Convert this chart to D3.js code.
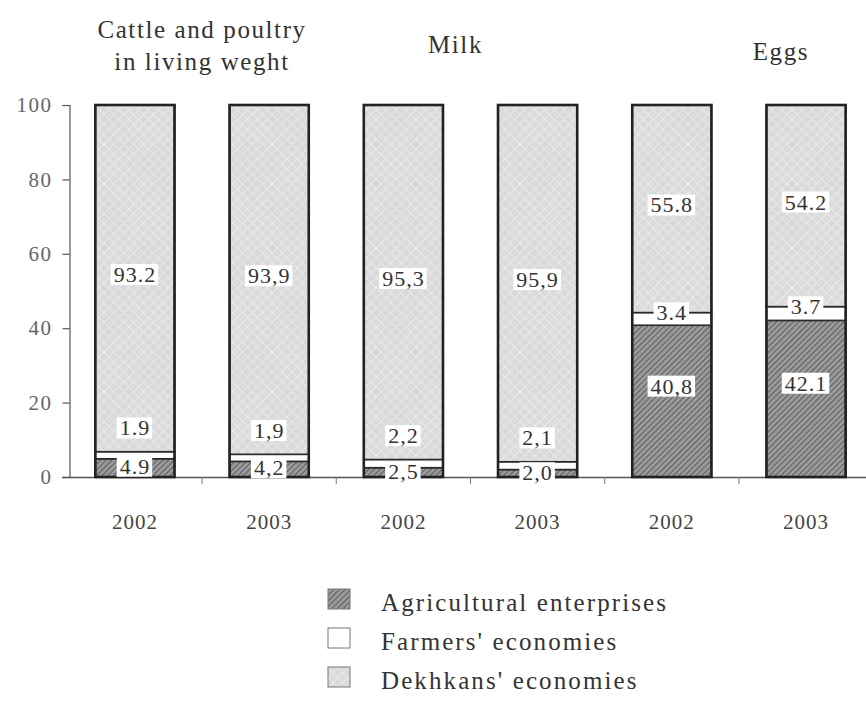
<!DOCTYPE html>
<html>
<head>
<meta charset="utf-8">
<script src="https://cdn.jsdelivr.net/npm/d3@7"></script>
<style>
  html, body { margin: 0; padding: 0; background: #fff; }
  svg { display: block; font-family: "Liberation Serif", "Times New Roman", serif; }
</style>
</head>
<body>
<svg id="chart" width="866" height="703"></svg>
<script>
// Structure of production by type of economy, %
const bars = ["c2002", "c2003", "m2002", "m2003", "e2002", "e2003"];
const years = ["2002", "2003", "2002", "2003", "2002", "2003"];
const groups = [
  { lines: ["Cattle and poultry", "in living weght"], from: 0, to: 1 },
  { lines: ["Milk"], from: 2, to: 3 },
  { lines: ["Eggs"], from: 4, to: 5 }
];
const seriesNames = ["Agricultural enterprises", "Farmers' economies", "Dekhkans' economies"];
const agricultural = [4.9, 4.2, 2.5, 2.0, 40.8, 42.1];
const farmers = [1.9, 1.9, 2.2, 2.1, 3.4, 3.7];
const dekhkans = [93.2, 93.9, 95.3, 95.9, 55.8, 54.2];
// printed labels keep the mixed decimal separators of the source
const agriculturalLabels = ["4.9", "4,2", "2,5", "2,0", "40,8", "42.1"];
const farmersLabels = ["1.9", "1,9", "2,2", "2,1", "3.4", "3.7"];
const dekhkansLabels = ["93.2", "93,9", "95,3", "95,9", "55.8", "54.2"];
const yTicks = [0, 20, 40, 60, 80, 100];

const svg = d3.select("#chart");
const defs = svg.append("defs");

// diagonal hatch for agricultural enterprises
const hatch = defs.append("pattern").attr("id", "hatch")
  .attr("patternUnits", "userSpaceOnUse").attr("width", 4).attr("height", 4)
  .attr("patternTransform", "rotate(45)");
hatch.append("rect").attr("width", 4).attr("height", 4).attr("fill", "#9a9a9a");
hatch.append("line").attr("x1", 0).attr("y1", 0).attr("x2", 0).attr("y2", 4)
  .attr("stroke", "#4a4a4a").attr("stroke-width", 1.5);

// light cross texture for dekhkans' economies
const cross = defs.append("pattern").attr("id", "cross")
  .attr("patternUnits", "userSpaceOnUse").attr("width", 7).attr("height", 7)
  .attr("patternTransform", "rotate(45)");
cross.append("rect").attr("width", 7).attr("height", 7).attr("fill", "#dadada");
cross.append("line").attr("x1", 0).attr("y1", 0).attr("x2", 7).attr("y2", 0)
  .attr("stroke", "#efefef").attr("stroke-width", 1.4);
cross.append("line").attr("x1", 0).attr("y1", 0).attr("x2", 0).attr("y2", 7)
  .attr("stroke", "#efefef").attr("stroke-width", 1.4);

const fills = ["url(#hatch)", "#ffffff", "url(#cross)"];

const x = d3.scaleBand().domain(bars).range([68.5, 872.5])
  .paddingInner(0.41).paddingOuter(0.2);
const y = d3.scaleLinear().domain([0, 100]).range([477, 105]);

// stacked data
const table = bars.map((k, i) => ({
  key: k, agricultural: agricultural[i], farmers: farmers[i], dekhkans: dekhkans[i]
}));
const stack = d3.stack().keys(["agricultural", "farmers", "dekhkans"])(table);

// x baseline with small ticks between bars
const xAxis = svg.append("g").attr("transform", `translate(0,${y(0)})`);
xAxis.append("line").attr("x1", 62).attr("x2", 866).attr("y1", 0.5).attr("y2", 0.5)
  .attr("stroke", "#555").attr("stroke-width", 1.3);
xAxis.selectAll("line.tk").data(bars.slice(1)).join("line").attr("class", "tk")
  .attr("x1", d => x(d) - x.step() * x.paddingInner() / 2)
  .attr("x2", d => x(d) - x.step() * x.paddingInner() / 2)
  .attr("y1", 0).attr("y2", 7).attr("stroke", "#777").attr("stroke-width", 1);

// y axis
const yAxis = svg.append("g").attr("transform", "translate(69.5,0)")
  .call(d3.axisLeft(y).tickValues(yTicks).tickSize(7).tickPadding(10));
yAxis.select(".domain").attr("stroke", "#555").attr("stroke-width", 1.2);
yAxis.selectAll(".tick line").attr("stroke", "#555").attr("stroke-width", 1.2);
yAxis.selectAll(".tick text").attr("fill", "#666").attr("font-size", 21)
  .attr("letter-spacing", 1.5)
  .attr("font-family", "Liberation Serif, serif");

// stacked segments
const layers = svg.append("g").selectAll("g").data(stack).join("g")
  .attr("fill", (d, i) => fills[i]);
layers.selectAll("rect").data(d => d).join("rect")
  .attr("x", d => x(d.data.key))
  .attr("width", x.bandwidth())
  .attr("y", d => y(d[1]))
  .attr("height", d => y(d[0]) - y(d[1]))
  .attr("stroke", "#2a2a2a").attr("stroke-width", 1.6);

// bar outlines
svg.append("g").selectAll("rect").data(bars).join("rect")
  .attr("x", d => x(d)).attr("width", x.bandwidth())
  .attr("y", y(100)).attr("height", y(0) - y(100))
  .attr("fill", "none").attr("stroke", "#222").attr("stroke-width", 2.6);

// value labels on white boxes
function labelAt(g, cx, cy, text) {
  const t = g.append("text").attr("x", cx).attr("y", cy).attr("dy", "0.35em")
    .attr("text-anchor", "middle").attr("font-size", 22).attr("letter-spacing", 1)
    .attr("fill", "#333").text(text);
  const b = t.node().getBBox();
  g.insert("rect", "text").attr("x", b.x - 3).attr("y", b.y + 2)
    .attr("width", b.width + 5).attr("height", b.height - 4).attr("fill", "#fff");
}
const labels = svg.append("g");
bars.forEach((k, i) => {
  const cx = x(k) + x.bandwidth() / 2;
  const a = agricultural[i], f = farmers[i], dk = dekhkans[i];
  labelAt(labels.append("g"), cx, y(a * 0.6), agriculturalLabels[i]);
  const fTop = y(a + f);
  labelAt(labels.append("g"), cx, f < 3 ? fTop - 24 : fTop, farmersLabels[i]);
  labelAt(labels.append("g"), cx, y(a + f + dk / 2) - 4, dekhkansLabels[i]);
});

// year labels
svg.append("g").selectAll("text").data(bars).join("text")
  .attr("x", d => x(d) + x.bandwidth() / 2).attr("y", 529)
  .attr("text-anchor", "middle").attr("font-size", 21).attr("letter-spacing", 1)
  .attr("fill", "#444")
  .text((d, i) => years[i]);

// group titles
const titleY = [[38, 70], [53], [60]];
const titleDx = [0, -15, 42];
groups.forEach((g, gi) => {
  const cx = (x(bars[g.from]) + x(bars[g.to]) + x.bandwidth()) / 2 + titleDx[gi];
  g.lines.forEach((ln, li) => {
    svg.append("text").attr("x", cx).attr("y", titleY[gi][li])
      .attr("text-anchor", "middle").attr("font-size", 25).attr("letter-spacing", 1.6)
      .attr("fill", "#333").text(ln);
  });
});

// legend
const legend = svg.append("g").attr("transform", "translate(328,589)");
const lg = legend.selectAll("g").data(seriesNames).join("g")
  .attr("transform", (d, i) => `translate(0,${i * 39})`);
lg.append("rect").attr("width", 22).attr("height", 20)
  .attr("fill", (d, i) => fills[i]).attr("stroke", "#777").attr("stroke-width", 1);
lg.append("text").attr("x", 53).attr("y", 22)
  .attr("font-size", 25).attr("letter-spacing", 2.1).attr("fill", "#333").text(d => d);
</script>
</body>
</html>
